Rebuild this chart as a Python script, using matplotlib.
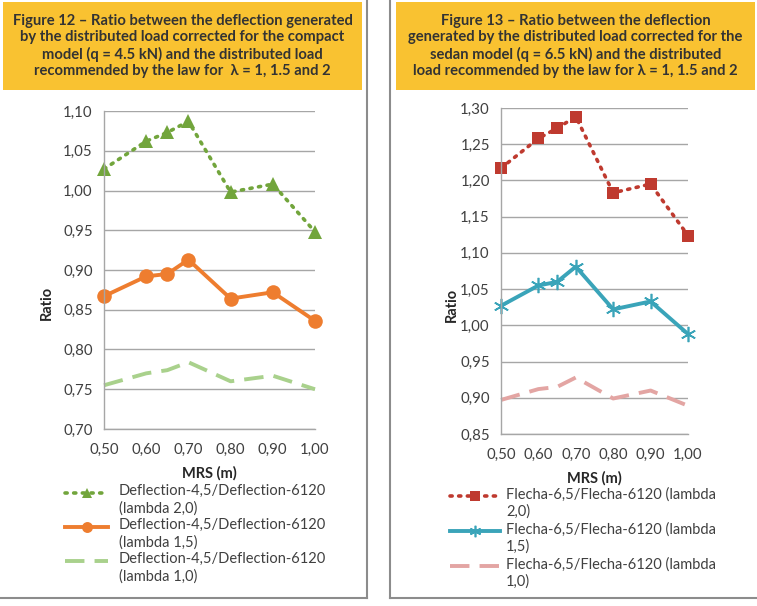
import matplotlib.pyplot as plt
from matplotlib.lines import Line2D
from matplotlib.patches import Rectangle
from matplotlib.ticker import FuncFormatter, MultipleLocator

# MRS (m)
mrs = [0.50, 0.60, 0.65, 0.70, 0.80, 0.90, 1.00]

# Figure 12 - compact model (q = 4.5 kN)
compact_l20 = [1.027, 1.062, 1.073, 1.087, 0.998, 1.008, 0.948]
compact_l15 = [0.867, 0.892, 0.895, 0.913, 0.864, 0.872, 0.836]
compact_l10 = [0.755, 0.770, 0.774, 0.784, 0.760, 0.767, 0.750]

# Figure 13 - sedan model (q = 6.5 kN)
sedan_l20 = [1.217, 1.258, 1.272, 1.288, 1.183, 1.195, 1.124]
sedan_l15 = [1.027, 1.055, 1.060, 1.081, 1.022, 1.033, 0.988]
sedan_l10 = [0.897, 0.912, 0.915, 0.928, 0.899, 0.910, 0.889]

title_left = ("Figure 12 \u2013 Ratio between the deflection generated\n"
              "by the distributed load corrected for the compact\n"
              "model (q = 4.5 kN) and the distributed load\n"
              "recommended by the law for  \u03bb = 1, 1.5 and 2")
title_right = ("Figure 13 \u2013 Ratio between the deflection\n"
               "generated by the distributed load corrected for the\n"
               "sedan model (q = 6.5 kN) and the distributed\n"
               "load recommended by the law for \u03bb = 1, 1.5 and 2")

labels_left = ["Deflection-4,5/Deflection-6120\n(lambda 2,0)",
               "Deflection-4,5/Deflection-6120\n(lambda 1,5)",
               "Deflection-4,5/Deflection-6120\n(lambda 1,0)"]
labels_right = ["Flecha-6,5/Flecha-6120 (lambda\n2,0)",
                "Flecha-6,5/Flecha-6120 (lambda\n1,5)",
                "Flecha-6,5/Flecha-6120 (lambda\n1,0)"]

W, H = 757, 606
fig = plt.figure(figsize=(W / 100, H / 100), dpi=100)

FONT = ['Lato', 'DejaVu Sans']
TXT = '#404040'
GRID = '#a6a6a6'


def fx(px):
    return px / W


def fy(py):
    return 1 - py / H


# panel frames
fig.add_artist(Line2D([fx(367), fx(367)], [fy(0), fy(598)], color='#8c8c8c', lw=1.5))
fig.add_artist(Line2D([0, fx(367)], [fy(598), fy(598)], color='#8c8c8c', lw=1.5))
fig.add_artist(Line2D([fx(390), fx(390)], [fy(0), fy(598)], color='#8c8c8c', lw=1.5))
fig.add_artist(Line2D([fx(390), 1], [fy(598), fy(598)], color='#8c8c8c', lw=1.5))

# title boxes
for x0, x1, txt in [(3, 362, title_left), (396, 755, title_right)]:
    fig.add_artist(Rectangle((fx(x0), fy(90)), fx(x1 - x0), 88 / H,
                             facecolor='#f9c231', edgecolor='none'))
    fig.text(fx((x0 + x1) / 2), fy(46), txt, ha='center', va='center',
             fontsize=10.6, fontweight='bold', color='#333333', family=FONT,
             linespacing=1.2)


def make_axes(box, ylim, series, styles, labels, ylab_xy, xlab_y, leg):
    l, t, r, b = box
    ax = fig.add_axes([fx(l), fy(b), fx(r - l), (b - t) / H])
    for y, st in zip(series, styles):
        ax.plot(mrs, y, clip_on=False, **st)
    ax.set_xlim(0.5, 1.0)
    ax.set_ylim(*ylim)
    ax.xaxis.set_major_locator(MultipleLocator(0.1))
    ax.yaxis.set_major_locator(MultipleLocator(0.05))
    fmt = FuncFormatter(lambda v, p: f"{v:.2f}".replace('.', ','))
    ax.xaxis.set_major_formatter(fmt)
    ax.yaxis.set_major_formatter(fmt)
    ax.grid(axis='y', color=GRID, lw=1)
    ax.set_axisbelow(True)
    for s in ['top', 'right']:
        ax.spines[s].set_visible(False)
    for s in ['left', 'bottom']:
        ax.spines[s].set_color(GRID)
        ax.spines[s].set_linewidth(1)
    ax.tick_params(length=0, labelsize=10.8, labelcolor=TXT)
    ax.tick_params(axis='x', pad=10)
    ax.tick_params(axis='y', pad=8)
    for lab in ax.get_xticklabels() + ax.get_yticklabels():
        lab.set_family(FONT)
    fig.text(fx(ylab_xy[0]), fy(ylab_xy[1]), 'Ratio', rotation=90, ha='center',
             va='center', fontsize=10.5, fontweight='bold', color='#262626', family=FONT)
    fig.text(fx((l + r) / 2), fy(xlab_y), 'MRS (m)', ha='center', va='center',
             fontsize=10.5, fontweight='bold', color='#262626', family=FONT)
    # legend, handle aligned with the first text line
    hx0, hx1, tx, ys = leg
    for st, lab, y0 in zip(styles, labels, ys):
        fig.add_artist(Line2D([fx(hx0), fx(hx1)], [fy(y0), fy(y0)],
                              color=st['color'], lw=st['lw'],
                              linestyle=st['linestyle'],
                              dash_capstyle=st.get('dash_capstyle', 'butt')))
        fig.add_artist(Line2D([fx((hx0 + hx1) / 2)], [fy(y0)],
                              marker=st['marker'], markersize=st['markersize'] * 0.75,
                              color=st['color'], markeredgewidth=st.get('markeredgewidth', 1),
                              linestyle='none'))
        fig.text(fx(tx), fy(y0 - 9), lab, ha='left', va='top', fontsize=10.5,
                 color=TXT, family=FONT, linespacing=1.3)
    return ax


dot = (0, (0.6, 1.8))
dash = (0, (5, 2.6))

styles_left = [
    dict(color='#72a53c', lw=2.6, linestyle=dot, dash_capstyle='round',
         marker='^', markersize=10, markeredgewidth=0),
    dict(color='#ee7d2f', lw=2.8, linestyle='-', marker='o', markersize=10.5,
         markeredgewidth=0),
    dict(color='#a9d18c', lw=2.8, linestyle=dash, marker='', markersize=0),
]
styles_right = [
    dict(color='#bf3a2f', lw=2.6, linestyle=dot, dash_capstyle='round',
         marker='s', markersize=9, markeredgewidth=0),
    dict(color='#3aa4b9', lw=2.8, linestyle='-', marker=(6, 2, 0),
         markersize=11, markeredgewidth=1.2),
    dict(color='#e3a5a3', lw=2.8, linestyle=dash, marker='', markersize=0),
]

make_axes((104, 111, 315, 429), (0.70, 1.10),
          [compact_l20, compact_l15, compact_l10], styles_left, labels_left,
          (47, 303), 473, (65, 108, 119, [493, 527, 561]))
make_axes((501, 108, 688, 434), (0.85, 1.30),
          [sedan_l20, sedan_l15, sedan_l10], styles_right, labels_right,
          (452, 305), 478, (450, 500, 506, [496, 531, 566]))

fig.savefig('out.png', dpi=100)
